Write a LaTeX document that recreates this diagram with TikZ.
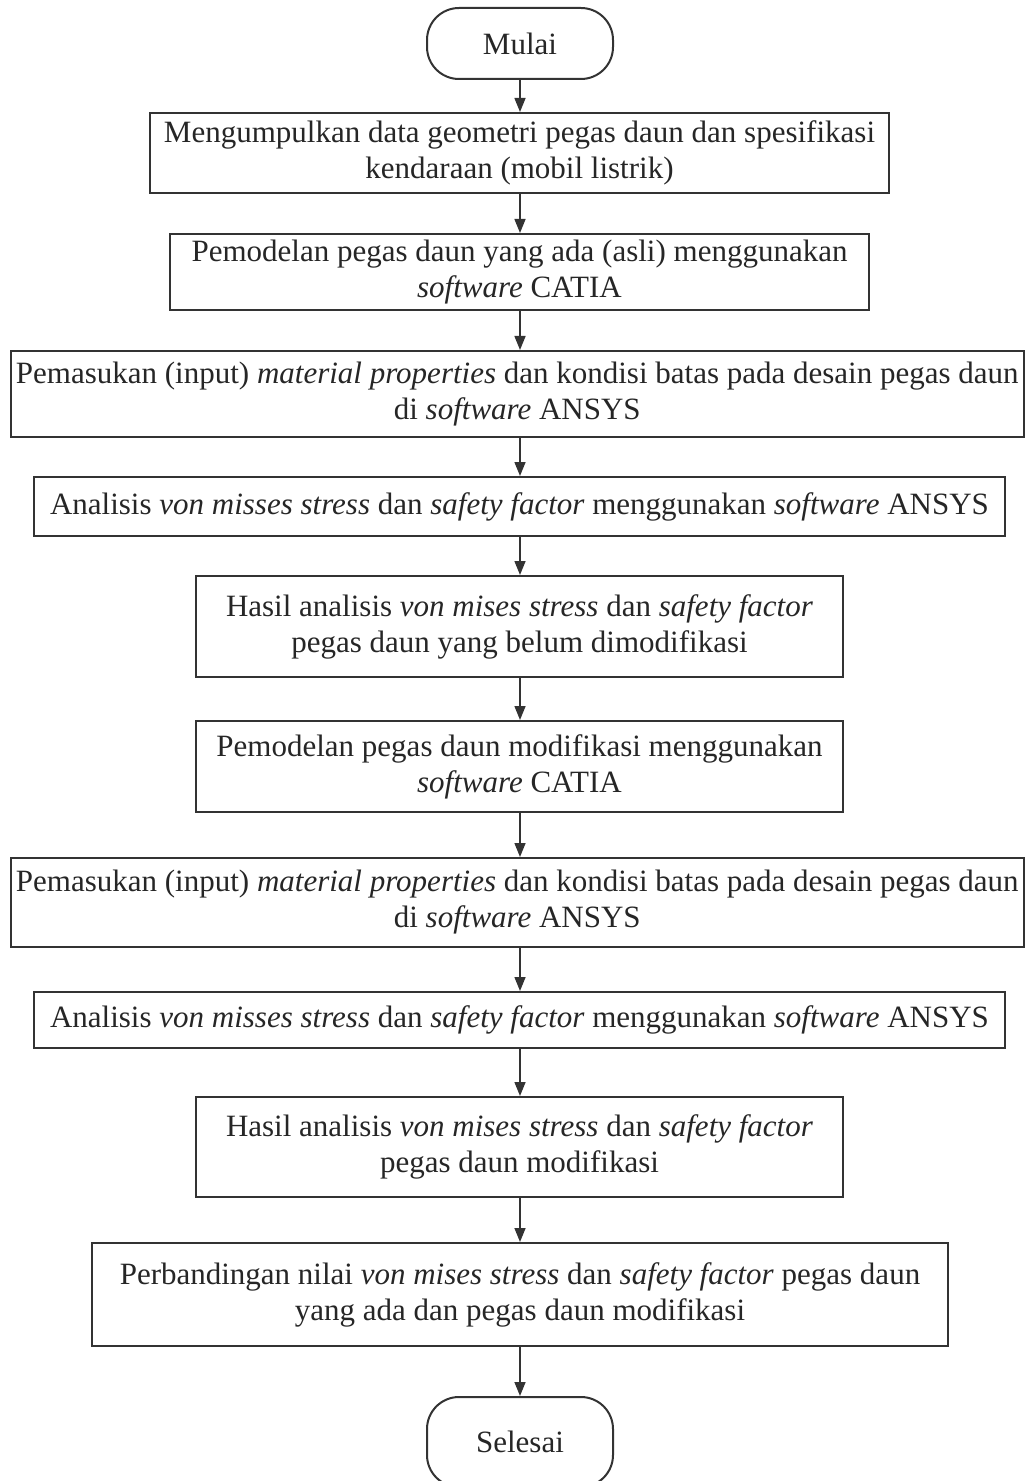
\documentclass[tikz,border=0pt]{standalone}
\usepackage{fontspec}
\setmainfont{Liberation Serif}
\usetikzlibrary{arrows.meta}

\begin{document}
\begin{tikzpicture}[x=0.5pt, y=-0.5pt,
  proses/.style={draw=black!80, line width=1pt, inner sep=0pt, align=center,
    text=black!85, font=\fontsize{15.5}{18}\selectfont},
  terminal/.style={proses, rounded corners=16pt, minimum width=93pt},
  panah/.style={draw=black!80, line width=0.75pt, -{Triangle[length=7pt,width=5.5pt]}}]
  \useasboundingbox (0,0) rectangle (1025,1481);

  % Start and end
  \node (mulai) at (520,43.5) [terminal, minimum height=35.5pt] {Mulai};
  \node (selesai) at (520,1442) [terminal, minimum height=45pt] {Selesai};

  % Process boxes
  \node (b1) at (519.5,153) [proses, minimum width=369.5pt, minimum height=40pt]
    {Mengumpulkan data geometri pegas daun dan spesifikasi\\kendaraan (mobil listrik)};
  \node (b2) at (519.5,272) [proses, minimum width=349.5pt, minimum height=38pt]
    {Pemodelan pegas daun yang ada (asli) menggunakan\\\textit{software} CATIA};
  \node (b3) at (517.3,394) [proses, minimum width=506.5pt, minimum height=43pt]
    {Pemasukan (input) \textit{material properties} dan kondisi batas pada desain pegas daun\\di \textit{software} ANSYS};
  \node (b4) at (519.5,506.5) [proses, minimum width=485.5pt, minimum height=29.5pt]
    {Analisis \textit{von misses stress} dan \textit{safety factor} menggunakan \textit{software} ANSYS};
  \node (b5) at (519.5,626.5) [proses, minimum width=323.5pt, minimum height=50.5pt]
    {Hasil analisis \textit{von mises stress} dan \textit{safety factor}\\pegas daun yang belum dimodifikasi};
  \node (b6) at (519.5,766.5) [proses, minimum width=323.5pt, minimum height=45.5pt]
    {Pemodelan pegas daun modifikasi menggunakan\\\textit{software} CATIA};
  \node (b7) at (517.3,902.5) [proses, minimum width=506.5pt, minimum height=44.5pt]
    {Pemasukan (input) \textit{material properties} dan kondisi batas pada desain pegas daun\\di \textit{software} ANSYS};
  \node (b8) at (519.5,1020) [proses, minimum width=485.5pt, minimum height=28pt]
    {Analisis \textit{von misses stress} dan \textit{safety factor} menggunakan \textit{software} ANSYS};
  \node (b9) at (519.5,1147) [proses, minimum width=323.5pt, minimum height=50pt]
    {Hasil analisis \textit{von mises stress} dan \textit{safety factor}\\pegas daun modifikasi};
  \node (b10) at (520,1294.5) [proses, minimum width=428pt, minimum height=51.5pt]
    {Perbandingan nilai \textit{von mises stress} dan \textit{safety factor} pegas daun\\yang ada dan pegas daun modifikasi};

  % Arrows down the middle
  \foreach \a/\b in {mulai/b1, b1/b2, b2/b3, b3/b4, b4/b5, b5/b6, b6/b7, b7/b8, b8/b9, b9/b10, b10/selesai} {
    \draw[panah] (\a.south -| mulai) -- (\b.north -| mulai);
  }

\end{tikzpicture}
\end{document}
